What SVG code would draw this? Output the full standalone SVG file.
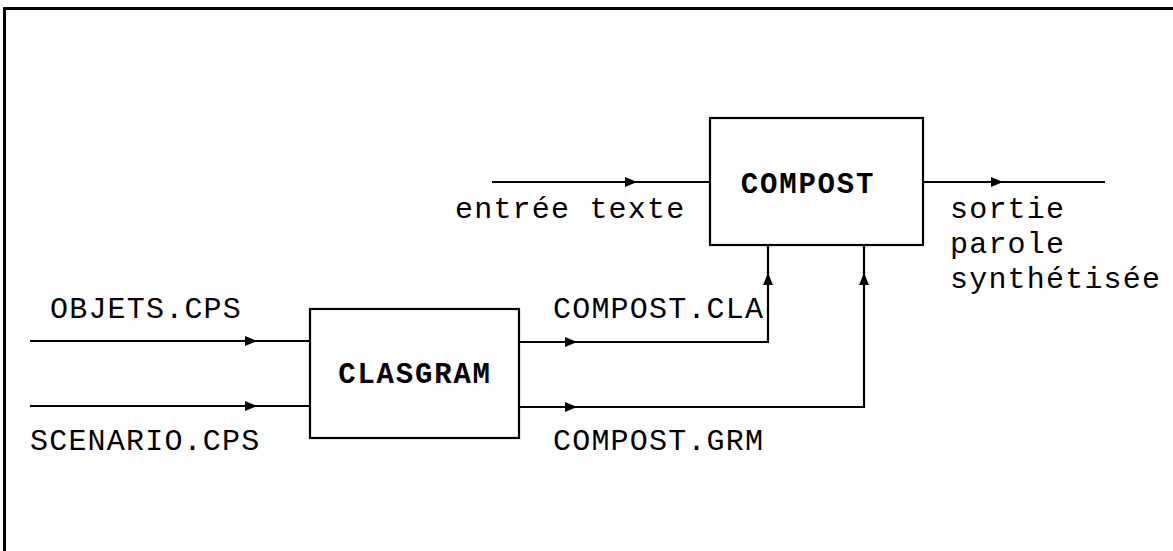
<svg xmlns="http://www.w3.org/2000/svg" width="1173" height="551" viewBox="0 0 1173 551">
<defs>
<marker id="ah" viewBox="0 0 12 10" refX="6" refY="5" markerWidth="12" markerHeight="10" markerUnits="userSpaceOnUse" orient="auto">
<path d="M0,0 L12,5 L0,10 Z" fill="#000"/>
</marker>
</defs>
<style>
.frame{fill:none;stroke:#000;stroke-width:3}
.box{fill:#fff;stroke:#000;stroke-width:2.2}
.ln{fill:none;stroke:#000;stroke-width:2.2}
.ar{fill:none;stroke:none;marker-end:url(#ah)}
.t{font-family:"Liberation Mono","Courier New",monospace;font-size:30px;fill:#000;letter-spacing:1.2px}
.b{font-family:"Liberation Mono","Courier New",monospace;font-size:29px;font-weight:bold;fill:#000;text-anchor:middle;letter-spacing:1.8px}
</style>
<rect width="1173" height="551" fill="#fff"/>
<path class="frame" d="M4.5,551 V8.5 H1173"/>
<g id="connectors">
<path class="ln" d="M492,182 H710"/>
<path class="ar" d="M630,182 H631"/>
<path class="ln" d="M923,182 H1105"/>
<path class="ar" d="M996,182 H997"/>
<path class="ln" d="M30,341 H310"/>
<path class="ar" d="M250,341 H251"/>
<path class="ln" d="M30,406 H310"/>
<path class="ar" d="M250,406 H251"/>
<path class="ln" d="M519,342 H768 V245"/>
<path class="ar" d="M570,342 H571"/>
<path class="ar" d="M768,280 V279"/>
<path class="ln" d="M519,407 H864 V245"/>
<path class="ar" d="M570,407 H571"/>
<path class="ar" d="M864,280 V279"/>
</g>
<g id="clasgram">
<rect class="box" x="310" y="309" width="209" height="129"/>
<text class="b" x="415" y="383">CLASGRAM</text>
</g>
<g id="compost">
<rect class="box" x="710" y="118" width="213" height="127"/>
<text class="b" x="808" y="193">COMPOST</text>
</g>
<g id="labels">
<text class="t" x="455" y="218">entrée texte</text>
<text class="t" x="50" y="318">OBJETS.CPS</text>
<text class="t" x="30" y="450">SCENARIO.CPS</text>
<text class="t" x="553" y="318">COMPOST.CLA</text>
<text class="t" x="553" y="450">COMPOST.GRM</text>
<text class="t" x="950" y="218">sortie</text>
<text class="t" x="950" y="253">parole</text>
<text class="t" x="950" y="288">synthétisée</text>
</g>
</svg>
